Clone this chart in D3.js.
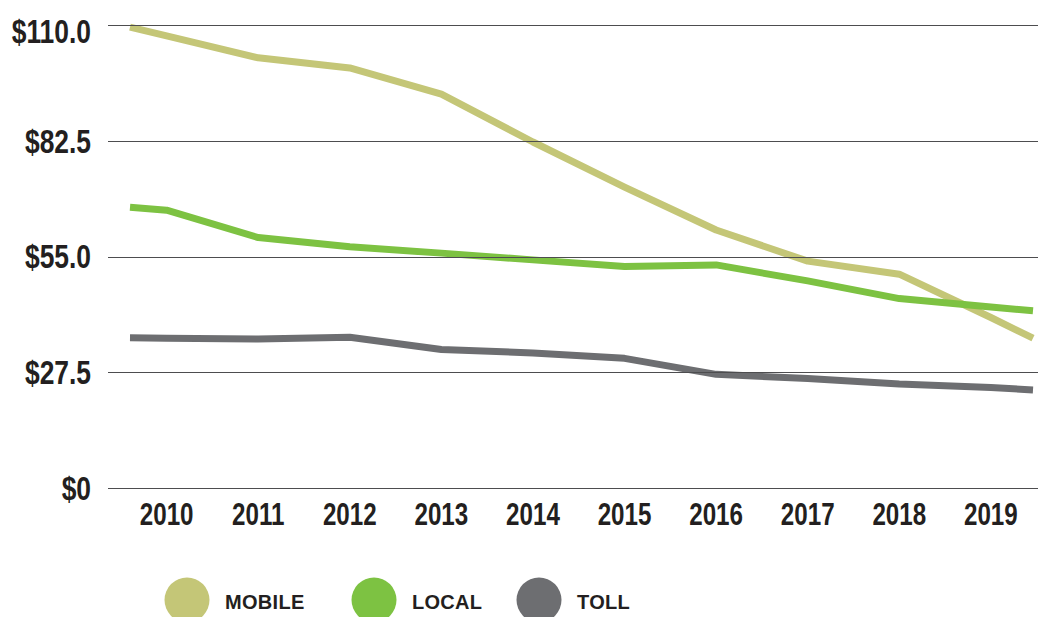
<!DOCTYPE html>
<html>
<head>
<meta charset="utf-8">
<script src="https://cdn.jsdelivr.net/npm/d3@7"></script>
<style>
  body { margin: 0; background: #fff; }
  .lbl { font-family: "Liberation Sans", Arial, sans-serif; font-weight: bold; fill: #231f20; }
  .leg { font-family: "Liberation Sans", Arial, sans-serif; font-weight: bold; fill: #231f20; }
</style>
</head>
<body>
<div id="chart"></div>
<script>
// tick labels / categories
const years = [2010, 2011, 2012, 2013, 2014, 2015, 2016, 2017, 2018, 2019];
const yTicks = [0, 27.5, 55, 82.5, 110];
const yLabels = ["$0", "$27.5", "$55.0", "$82.5", "$110.0"];

// points where the lines were read (line starts a bit before 2010 and ends a bit after 2019)
const pointYears = [2009.6, 2010, 2011, 2012, 2013, 2014, 2015, 2016, 2017, 2018, 2019, 2019.46];
const mobile = [109.5, 107.4, 102.2, 99.8, 93.6, 82.2, 71.5, 61.3, 53.9, 50.8, 40.5, 35.6];
const local  = [66.7, 66.0, 59.5, 57.3, 55.8, 54.2, 52.6, 53.0, 49.2, 45.0, 43.0, 42.1];
const toll   = [35.7, 35.6, 35.4, 35.8, 32.9, 32.1, 30.8, 27.0, 26.0, 24.7, 23.9, 23.3];

const seriesNames = ["MOBILE", "LOCAL", "TOLL"];
const colors = { MOBILE: "#c4c677", LOCAL: "#7dc242", TOLL: "#6d6e71" };

const width = 1038, height = 617;

const svg = d3.select("#chart").append("svg")
  .attr("width", width)
  .attr("height", height);

const x = d3.scaleLinear().domain([2009.6, 2019.46]).range([130, 1033]);
const y = d3.scaleLinear().domain([0, 110]).range([488, 25]);

const series = [
  { name: "MOBILE", values: mobile },
  { name: "TOLL", values: toll },
  { name: "LOCAL", values: local }
];

const line = d3.line()
  .x((d, i) => x(pointYears[i]))
  .y(d => y(d));

svg.append("g").selectAll("path")
  .data(series)
  .join("path")
  .attr("fill", "none")
  .attr("stroke", d => colors[d.name])
  .attr("stroke-width", 7)
  .attr("stroke-linejoin", "round")
  .attr("d", d => line(d.values));

// gridlines on top of the lines
svg.append("g").selectAll("line")
  .data(yTicks)
  .join("line")
  .attr("x1", 108).attr("x2", width)
  .attr("y1", d => Math.round(y(d)) + 0.5)
  .attr("y2", d => Math.round(y(d)) + 0.5)
  .attr("stroke", "#4d4d4f")
  .attr("stroke-width", 1.2);

// y labels (condensed look: squeeze horizontally)
svg.append("g").selectAll("g")
  .data(yTicks)
  .join("g")
  .attr("transform", d => `translate(91,${Math.max(y(d), 31)}) scale(0.8,1)`)
  .append("text")
  .attr("class", "lbl")
  .attr("dy", "0.36em")
  .attr("text-anchor", "end")
  .style("font-size", "33px")
  .text((d, i) => yLabels[i]);

// x labels
svg.append("g").selectAll("g")
  .data(years)
  .join("g")
  .attr("transform", d => `translate(${x(d)},514) scale(0.78,1)`)
  .append("text")
  .attr("class", "lbl")
  .attr("dy", "0.36em")
  .attr("text-anchor", "middle")
  .style("font-size", "31px")
  .text(d => d);

// legend
const legX = [187, 374, 539];
const leg = svg.append("g").selectAll("g")
  .data(seriesNames)
  .join("g")
  .attr("transform", (d, i) => `translate(${legX[i]},600)`);

leg.append("circle")
  .attr("r", 22.5)
  .attr("fill", d => colors[d]);

leg.append("text")
  .attr("class", "leg")
  .attr("x", 38)
  .attr("y", 2)
  .attr("dy", "0.36em")
  .style("font-size", "20px")
  .style("letter-spacing", "0.3px")
  .text(d => d);
</script>
</body>
</html>
